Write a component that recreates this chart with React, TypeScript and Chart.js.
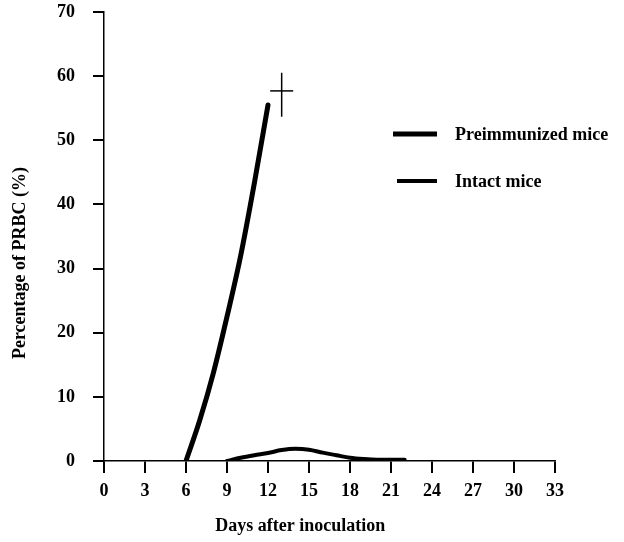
import { useEffect, useRef } from "react";
import { Chart, registerables } from "chart.js";

Chart.register(...registerables);

// ---- data ----
const preDays = [6, 7, 8, 9, 10, 11, 12];
const preValues = [0, 6.3, 13.7, 22.5, 32, 43.3, 55.5];
const intactDays = [9, 10, 11, 12, 13, 14, 15, 16, 17, 18, 19, 20, 21, 22];
const intactValues = [0, 0.5, 0.9, 1.25, 1.7, 1.9, 1.75, 1.3, 0.9, 0.5, 0.3, 0.2, 0.2, 0.2];
const deathDays = [13, 13];
const deathValues = [57.7, 57.1];
const xTickValues = [0, 3, 6, 9, 12, 15, 18, 21, 24, 27, 30, 33];
const yTickValues = [0, 10, 20, 30, 40, 50, 60, 70];
const seriesLabels = ["Preimmunized mice", "Intact mice"];
const xTitle = "Days after inoculation";
const yTitle = "Percentage of PRBC (%)";

const FONT = "'Liberation Serif', 'Times New Roman', serif";

const overlayPlugin = {
  id: "overlay",
  afterDraw(chart: any) {
    const { ctx, chartArea } = chart;
    const w = chartArea.right - chartArea.left;
    const h = chartArea.bottom - chartArea.top;
    ctx.save();
    ctx.fillStyle = "#000";
    ctx.font = `bold 18px ${FONT}`;
    // x title
    ctx.textAlign = "center";
    ctx.textBaseline = "middle";
    ctx.fillText(xTitle, chartArea.left + w * 0.435, chartArea.bottom + 65);
    // y title
    ctx.save();
    ctx.translate(20, chartArea.top + h * 0.559);
    ctx.rotate(-Math.PI / 2);
    ctx.fillText(yTitle, 0, 0);
    ctx.restore();
    // legend
    const items = [
      { ds: chart.data.datasets[0], x1: chartArea.left + 289, y: chartArea.top + 122 },
      { ds: chart.data.datasets[1], x1: chartArea.left + 293, y: chartArea.top + 169 },
    ];
    items.forEach((it, i) => {
      ctx.strokeStyle = it.ds.borderColor;
      ctx.lineWidth = it.ds.borderWidth;
      ctx.lineCap = "butt";
      ctx.beginPath();
      ctx.moveTo(it.x1, it.y);
      ctx.lineTo(chartArea.left + 333, it.y);
      ctx.stroke();
      ctx.textAlign = "left";
      ctx.textBaseline = "middle";
      ctx.fillText(seriesLabels[i], chartArea.left + 351, it.y + 1);
    });
    ctx.restore();
  },
};

export default function App() {
  const ref = useRef<HTMLCanvasElement>(null);
  useEffect(() => {
    document.body.style.margin = "0";
    const canvas = ref.current;
    if (!canvas) return;
    const tickFont = { family: FONT, size: 18, weight: "bold" as const };
    const chart = new Chart(canvas, {
      type: "line",
      data: {
        datasets: [
          {
            label: seriesLabels[0],
            data: preDays.map((d, i) => ({ x: d, y: preValues[i] })),
            borderColor: "#000",
            borderWidth: 5,
            borderCapStyle: "round",
            pointRadius: 0,
            tension: 0.4,
            cubicInterpolationMode: "monotone",
          },
          {
            label: seriesLabels[1],
            data: intactDays.map((d, i) => ({ x: d, y: intactValues[i] })),
            borderColor: "#000",
            borderWidth: 4,
            borderCapStyle: "round",
            pointRadius: 0,
            tension: 0.4,
            cubicInterpolationMode: "monotone",
          },
          {
            label: "death",
            data: deathDays.map((d, i) => ({ x: d, y: deathValues[i] })),
            showLine: false,
            borderColor: "#000",
            backgroundColor: "#000",
            pointStyle: "line",
            pointRadius: [11.5, 22],
            pointRotation: [0, 90],
            pointBorderWidth: 1.5,
          } as any,
        ],
      },
      options: {
        animation: false,
        responsive: false,
        maintainAspectRatio: false,
        layout: { autoPadding: false, padding: { top: 0, right: 69, left: 0, bottom: 0 } },
        plugins: { legend: { display: false }, tooltip: { enabled: false } },
        scales: {
          x: {
            type: "linear",
            min: 0,
            max: 33,
            afterBuildTicks: (s: any) => {
              s.ticks = xTickValues.map((v) => ({ value: v }));
            },
            afterFit: (s: any) => {
              s.height = 81;
            },
            grid: { drawOnChartArea: false, drawTicks: true, tickLength: 12, color: "#000", lineWidth: 2 },
            border: { display: true, color: "#000", width: 1.5 },
            ticks: { color: "#000", font: tickFont, padding: 8, maxRotation: 0, autoSkip: false },
          },
          y: {
            type: "linear",
            min: 0,
            max: 70,
            afterBuildTicks: (s: any) => {
              s.ticks = yTickValues.map((v) => ({ value: v }));
            },
            afterFit: (s: any) => {
              s.width = 104;
              s.paddingTop = 12;
              s.paddingBottom = 0;
            },
            grid: { drawOnChartArea: false, drawTicks: true, tickLength: 11, color: "#000", lineWidth: 2 },
            border: { display: true, color: "#000", width: 1.5 },
            ticks: { color: "#000", font: tickFont, padding: 18, autoSkip: false },
          },
        },
      },
      plugins: [overlayPlugin],
    });
    return () => chart.destroy();
  }, []);
  return (
    <div style={{ width: 624, height: 542, background: "#fff" }}>
      <canvas ref={ref} width={624} height={542} style={{ display: "block" }} />
    </div>
  );
}
